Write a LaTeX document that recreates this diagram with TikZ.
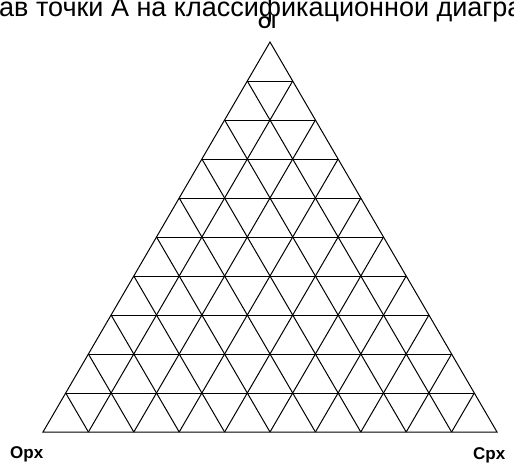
\documentclass[tikz,border=0pt]{standalone}
\usepackage{fontspec}
\setmainfont{Liberation Sans}
\usetikzlibrary{calc}
\begin{document}
\begin{tikzpicture}[x=1pt,y=-1pt,
  gridline/.style={line width=1pt,black},
  apexlabel/.style={font=\fontsize{17}{20}\selectfont\bfseries,inner sep=0pt},
  titletext/.style={font=\fontsize{27}{32}\selectfont,inner sep=0pt}]
\useasboundingbox (0,0) rectangle (514,464);
\clip (0,0) rectangle (514,464);
\coordinate (A) at (43,432);
\coordinate (B) at (497,432);
\coordinate (C) at (270,42);
\node[titletext,anchor=base west] (title) at (-1,16) {ав точки А на классификационной диагра};
\node[apexlabel,anchor=base] (ol) at (267,28.5) {Ol};
\node[apexlabel,anchor=base west] (opx) at (10,458) {Opx};
\node[apexlabel,anchor=base west] (cpx) at (473,459) {Cpx};
\draw[gridline,line join=miter] (A) -- (B) -- (C) -- cycle;
\foreach \i in {1,...,9}{
  \pgfmathsetmacro{\j}{10-\i}
  \draw[gridline] ($(A)!\i/10!(C)$) -- ($(B)!\i/10!(C)$);
  \draw[gridline] ($(A)!\i/10!(B)$) -- ($(A)!\i/10!(C)$);
  \draw[gridline] ($(A)!\i/10!(B)$) -- ($(B)!\j/10!(C)$);
}
\end{tikzpicture}
\end{document}
